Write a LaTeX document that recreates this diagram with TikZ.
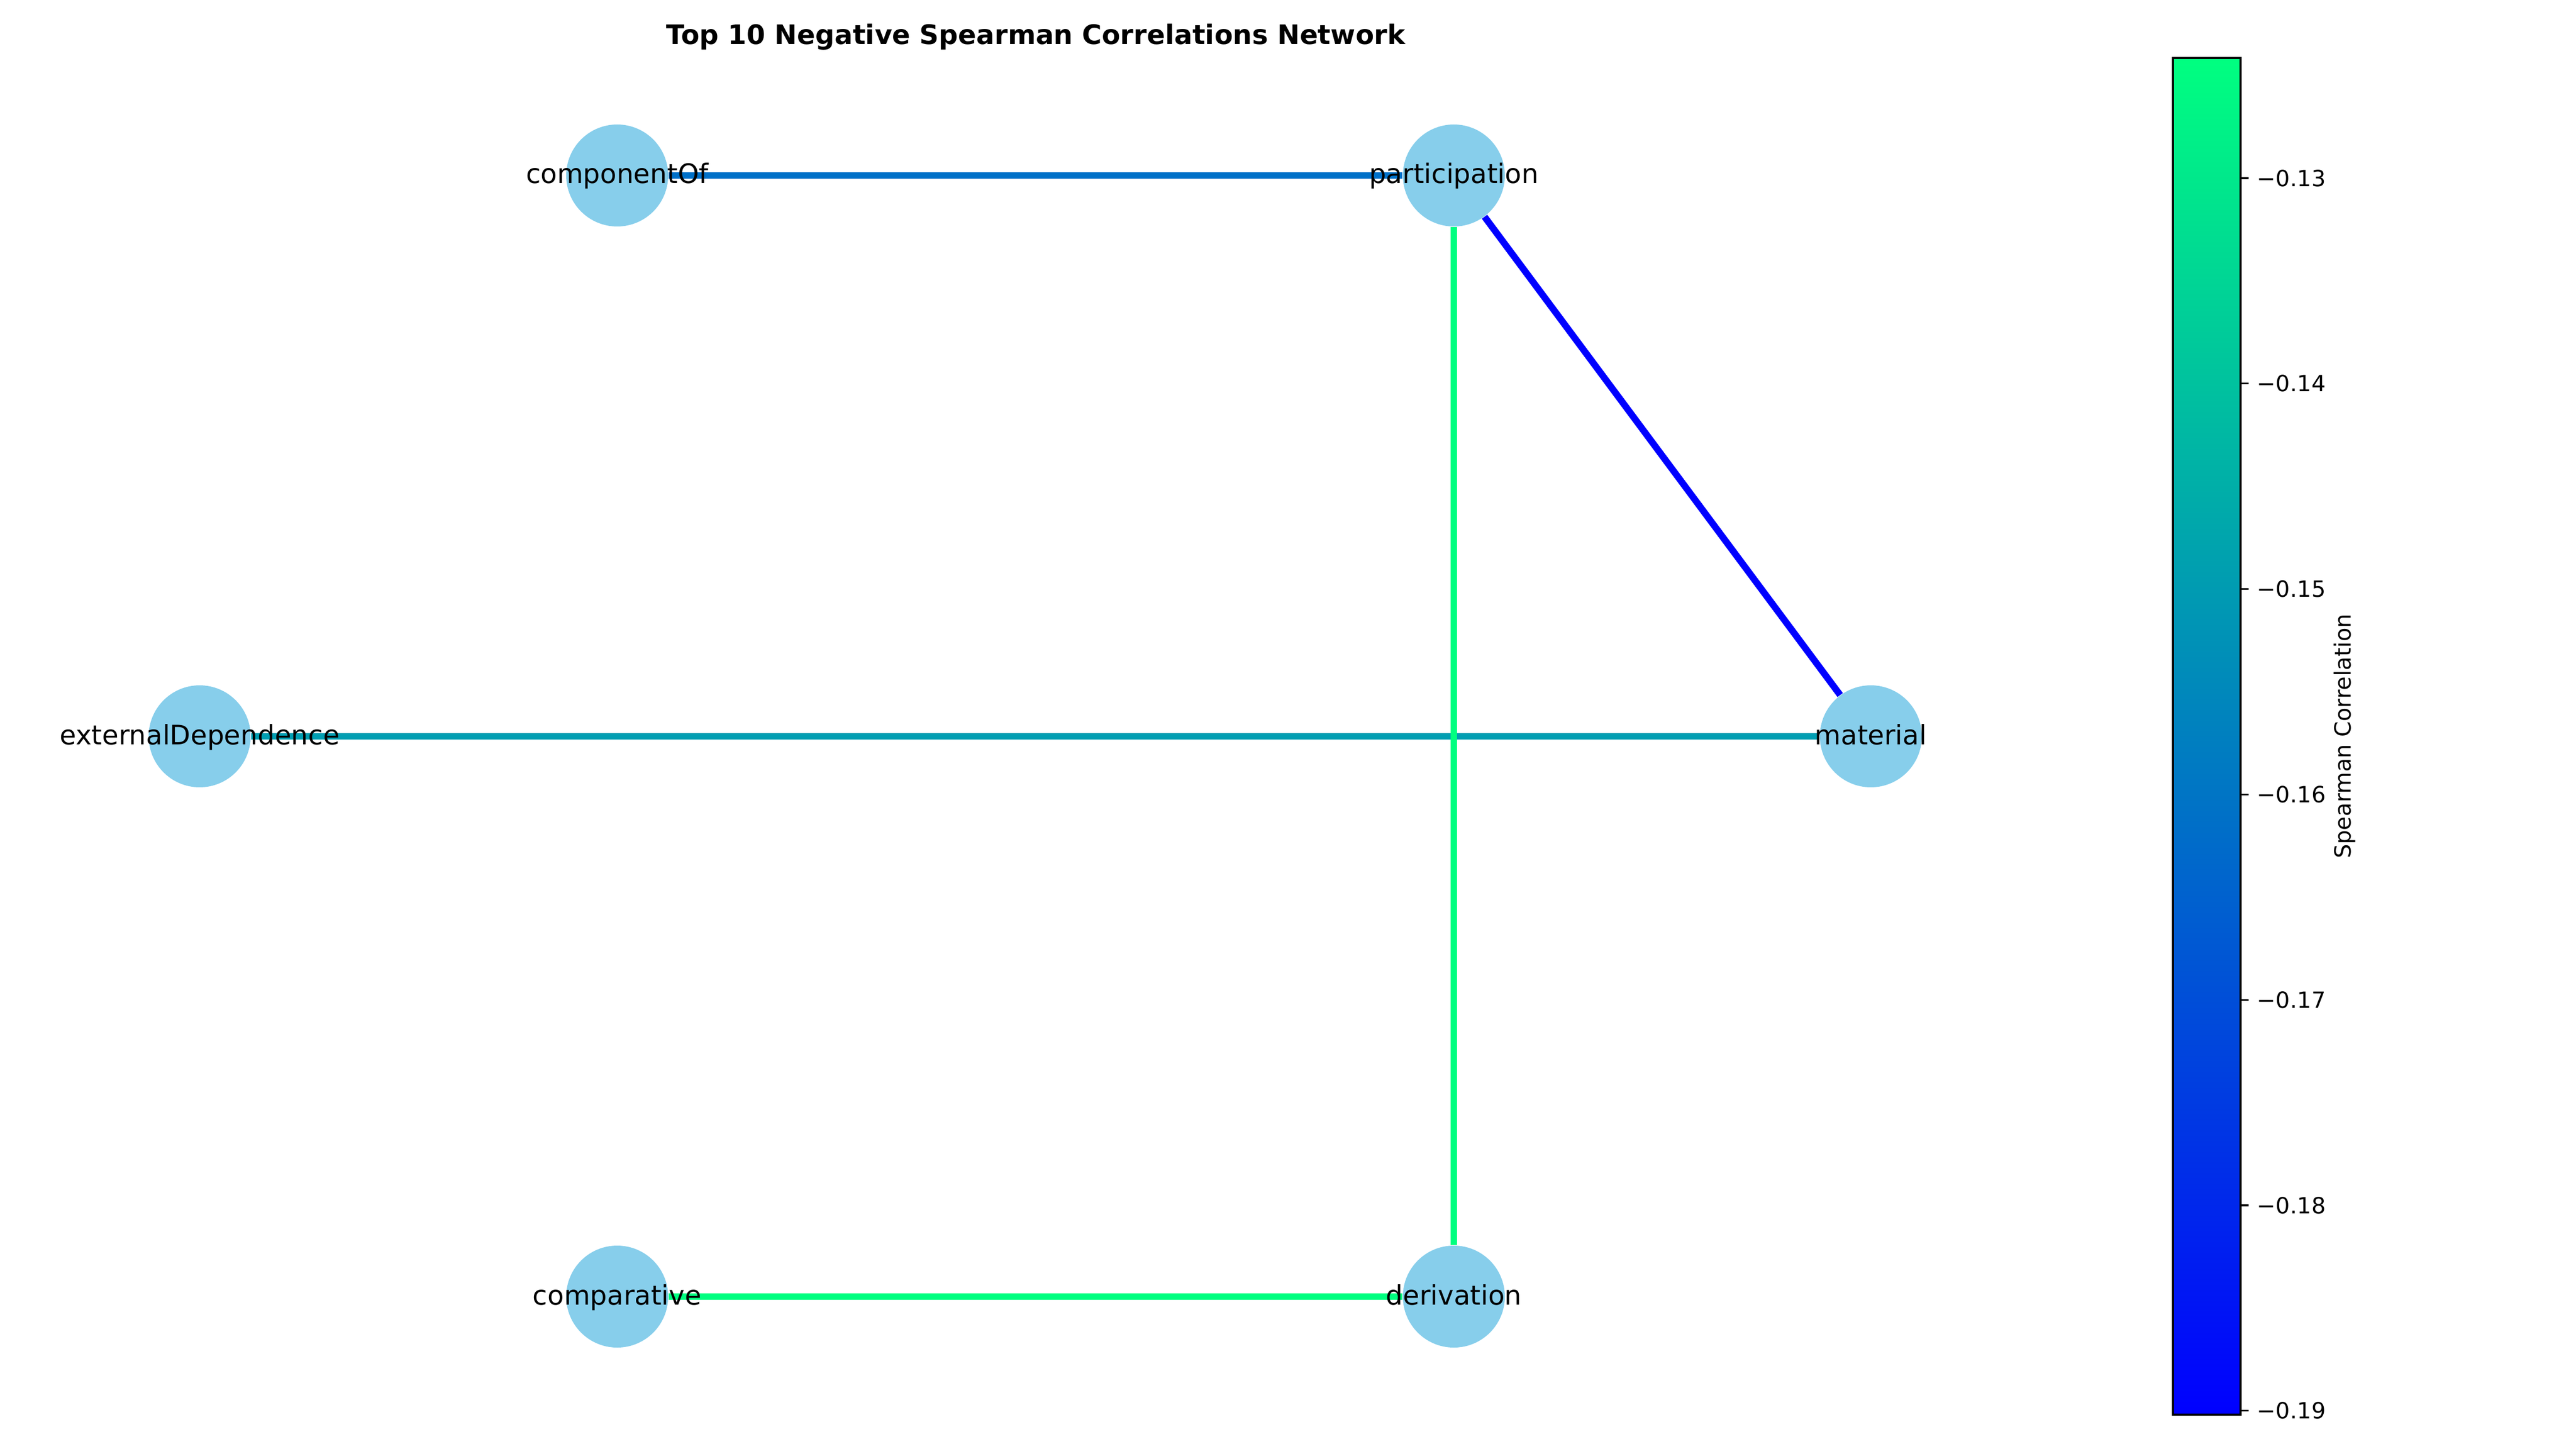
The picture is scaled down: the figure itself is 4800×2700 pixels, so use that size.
\documentclass[tikz,border=0pt]{standalone}
\usepackage{fontspec}
\setmainfont{DejaVu Sans}
\usepackage{xcolor}
\usepackage{tikz}
\usetikzlibrary{backgrounds}
\definecolor{nodeblue}{RGB}{135,206,235}
\definecolor{corrA}{RGB}{0,0,255}
\definecolor{corrB}{RGB}{0,112,200}
\definecolor{corrC}{RGB}{0,158,178}
\definecolor{corrD}{RGB}{0,255,128}

\begin{document}
\begin{tikzpicture}[x=0.24pt, y=-0.24pt,
    vertex/.style={circle, fill=nodeblue, inner sep=0pt, minimum size=45.6pt},
    vlabel/.style={anchor=base, inner sep=0pt, yshift=-3.6pt, font=\fontsize{12}{14}\selectfont},
    edge/.style={line width=3pt},
    ticklabel/.style={anchor=west, inner sep=0pt, font=\fontsize{10}{12}\selectfont}]
  \useasboundingbox (0,0) rectangle (4800,2700);
  \node[anchor=base, inner sep=0pt, font=\fontsize{12}{14}\selectfont\bfseries] (title) at (1930,83) {Top 10 Negative Spearman Correlations Network};

  % nodes
  \node[vertex] (componentOf) at (1150,327) {};
  \node[vertex] (participation) at (2709,327) {};
  \node[vertex] (externalDependence) at (372,1372) {};
  \node[vertex] (material) at (3486,1372) {};
  \node[vertex] (comparative) at (1150,2416) {};
  \node[vertex] (derivation) at (2709,2416) {};

  % edges
  \begin{scope}[on background layer]
    \draw[edge, corrC] (externalDependence) -- (material);
    \draw[edge, corrB] (componentOf) -- (participation);
    \draw[edge, corrA] (participation) -- (material);
    \draw[edge, corrD] (participation) -- (derivation);
    \draw[edge, corrD] (comparative) -- (derivation);
  \end{scope}

  \node[vlabel] (componentOfT) at (componentOf) {componentOf};
  \node[vlabel] (participationT) at (participation) {participation};
  \node[vlabel] (externalDependenceT) at (externalDependence) {externalDependence};
  \node[vlabel] (materialT) at (material) {material};
  \node[vlabel] (comparativeT) at (comparative) {comparative};
  \node[vlabel] (derivationT) at (derivation) {derivation};

  % colorbar
  \shade[bottom color=corrA, top color=corrD] (4049,108) rectangle (4175,2636);
  \draw[line width=0.8pt] (4049,108) rectangle (4175,2636);
  \foreach \v [count=\i from 0] in {13,...,19} {
    \draw[line width=0.8pt] (4175,{332+\i*382.8}) -- ++(14.6,0);
    \node[ticklabel] (tick\v) at (4205,{332+\i*382.8}) {−0.\v};
  }
  \node[rotate=90, anchor=base, inner sep=0pt, font=\fontsize{10}{12}\selectfont] (cbarlabel) at (4380,1372) {Spearman Correlation};
\end{tikzpicture}
\end{document}
